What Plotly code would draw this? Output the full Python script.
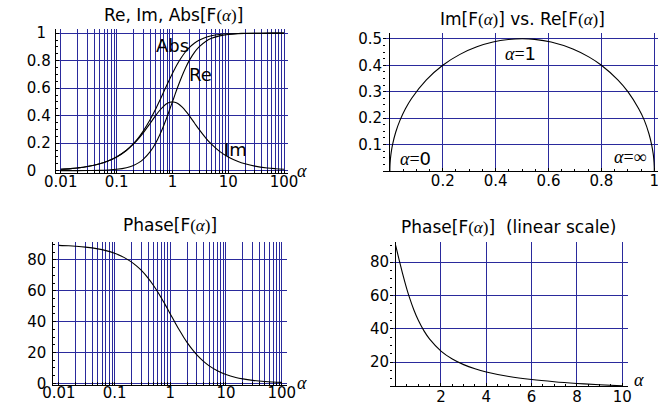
import plotly.graph_objects as go

# ---------------- data ----------------
alpha = [0.01, 0.015, 0.02, 0.03, 0.05, 0.07, 0.1, 0.15, 0.2, 0.25, 0.3, 0.4, 0.5, 0.6, 0.7,
         0.8, 0.9, 1.0, 1.1, 1.25, 1.5, 1.75, 2, 2.5, 3, 4, 5, 7, 10, 15, 20, 30, 50, 70, 100]
re_vals = [0.0001, 0.0002, 0.0004, 0.0009, 0.0025, 0.0049, 0.0099, 0.022, 0.0385, 0.0588, 0.0826,
           0.138, 0.2, 0.265, 0.329, 0.390, 0.448, 0.5, 0.5475, 0.6098, 0.692, 0.7538, 0.8, 0.862,
           0.9, 0.941, 0.962, 0.98, 0.990, 0.9956, 0.9975, 0.9989, 0.9996, 0.9998, 0.9999]
im_vals = [0.01, 0.015, 0.02, 0.03, 0.0499, 0.0697, 0.099, 0.1467, 0.1923, 0.2353, 0.2752, 0.3448,
           0.4, 0.4412, 0.4698, 0.4878, 0.4972, 0.5, 0.4977, 0.4878, 0.4615, 0.4308, 0.4, 0.3448,
           0.3, 0.2353, 0.1923, 0.14, 0.099, 0.0664, 0.0499, 0.0333, 0.02, 0.0143, 0.01]
abs_vals = [0.01, 0.015, 0.02, 0.03, 0.0499, 0.0698, 0.0995, 0.1483, 0.1961, 0.2425, 0.2873, 0.3714,
            0.4472, 0.5145, 0.5735, 0.6247, 0.669, 0.7071, 0.7399, 0.7809, 0.8321, 0.8682, 0.8944,
            0.9285, 0.9487, 0.9701, 0.9806, 0.9899, 0.995, 0.9978, 0.9988, 0.9994, 0.9998, 0.9999, 1.0]
phase_vals = [89.43, 89.14, 88.85, 88.28, 87.14, 86.0, 84.29, 81.47, 78.69, 75.96, 73.3, 68.2, 63.43,
              59.04, 55.01, 51.34, 48.01, 45, 42.27, 38.66, 33.69, 29.74, 26.57, 21.8, 18.43, 14.04,
              11.31, 8.13, 5.71, 3.81, 2.86, 1.91, 1.15, 0.82, 0.57]

# end points of the Nyquist curve (alpha = 0 and alpha = infinity)
nyq_start_re, nyq_start_im = [0.0], [0.0]
nyq_end_re, nyq_end_im = [1.0], [0.0]

alpha_lin = [0, 0.05, 0.1, 0.2, 0.3, 0.4, 0.5, 0.6, 0.8, 1, 1.25, 1.5, 2, 2.5, 3, 3.5, 4, 5, 6, 7,
             8, 9, 10]
phase_lin = [90, 87.14, 84.29, 78.69, 73.3, 68.2, 63.43, 59.04, 51.34, 45, 38.66, 33.69, 26.57,
             21.8, 18.43, 15.95, 14.04, 11.31, 9.46, 8.13, 7.13, 6.34, 5.71]

# tick values / labels
NB = "\u00a0"
log_grid = [m * 10 ** e for e in (-2, -1, 0, 1) for m in range(1, 10)] + [100]
log_labels = {0.01: "0.01", 0.1: "0.1", 1: "1", 10: "10", 100: "100"}
log_ticktext = [log_labels.get(round(v, 6), "") for v in log_grid]
y1_ticks = [0, 0.2, 0.4, 0.6, 0.8, 1]
y1_text = ["0" + NB * 3, "0.2", "0.4", "0.6", "0.8", "1" + NB]
x2_ticks = [0.2, 0.4, 0.6, 0.8, 1]
x2_text = ["0.2", "0.4", "0.6", "0.8", "1"]
y2_ticks = [0.1, 0.2, 0.3, 0.4, 0.5]
y2_text = ["0.1", "0.2", "0.3", "0.4", "0.5"]
y3_ticks = [0, 20, 40, 60, 80]
y3_text = ["0", "20", "40", "60", "80"]
x4_ticks = [2, 4, 6, 8, 10]
x4_text = ["2", "4", "6", "8", "10"]
y4_ticks = [20, 40, 60, 80]
y4_text = ["20", "40", "60", "80"]

# ---------------- figure ----------------
W, H = 658, 406
GRID = "#2a2a9c"
SANS = "DejaVu Sans"
SERIF = "Liberation Serif"
A = f'<span style="font-family:{SERIF};font-style:italic">α</span>'
FA = f'F<span style="font-family:{SERIF}">(</span>{A}<span style="font-family:{SERIF}">)</span>'

line = dict(color="black", width=1.1)
fig = go.Figure()
fig.add_trace(go.Scatter(x=alpha, y=re_vals, mode="lines", line=line, line_shape="spline",
                         xaxis="x", yaxis="y"))
fig.add_trace(go.Scatter(x=alpha, y=im_vals, mode="lines", line=line, line_shape="spline",
                         xaxis="x", yaxis="y"))
fig.add_trace(go.Scatter(x=alpha, y=abs_vals, mode="lines", line=line, line_shape="spline",
                         xaxis="x", yaxis="y"))
fig.add_trace(go.Scatter(x=nyq_start_re + re_vals + nyq_end_re,
                         y=nyq_start_im + im_vals + nyq_end_im,
                         mode="lines", line=line, line_shape="spline", xaxis="x2", yaxis="y2"))
fig.add_trace(go.Scatter(x=alpha, y=phase_vals, mode="lines", line=line, line_shape="spline",
                         xaxis="x3", yaxis="y3"))
fig.add_trace(go.Scatter(x=alpha_lin, y=phase_lin, mode="lines", line=line, line_shape="spline",
                         xaxis="x4", yaxis="y4"))


def px_x(p):
    return p / W


def px_y(p):
    return 1 - p / H


tickfont = dict(family=SANS, size=15, color="black")
common = dict(showgrid=True, gridcolor=GRID, gridwidth=1, showline=True, linecolor="black",
              linewidth=1, ticks="inside", ticklen=3, tickcolor="black", tickfont=tickfont,
              zeroline=False, fixedrange=True, automargin=False)

layout = dict(
    width=W, height=H, margin=dict(l=0, r=0, t=0, b=0, autoexpand=False), showlegend=False,
    paper_bgcolor="white", plot_bgcolor="white",
    xaxis=dict(common, type="log", domain=[px_x(55.7), px_x(288)], range=[-2.09, 2.07],
               tickvals=log_grid, ticktext=log_ticktext, anchor="y", ticklabelstandoff=-5),
    yaxis=dict(common, domain=[px_y(173.3), px_y(29)], range=[-0.019, 1.03],
               tickvals=y1_ticks, ticktext=y1_text, anchor="x", ticklabelstandoff=1,
               minor=dict(ticks="inside", ticklen=2, dtick=0.05, tickcolor="black", showgrid=False)),
    xaxis2=dict(common, domain=[px_x(383), 1.0], range=[-0.026, 1.014],
                tickvals=x2_ticks, ticktext=x2_text, anchor="y2", ticklabelstandoff=-4,
                ticklabeloverflow="allow",
                zeroline=True, zerolinecolor="black", zerolinewidth=1,
                minor=dict(ticks="inside", ticklen=2, dtick=0.05, tickcolor="black", showgrid=False)),
    yaxis2=dict(common, domain=[px_y(171), px_y(33)], range=[0, 0.522], showline=False,
                tickvals=y2_ticks, ticktext=y2_text, anchor="x2",
                minor=dict(ticks="inside", ticklen=2, dtick=0.025, tickcolor="black", showgrid=False)),
    xaxis3=dict(common, type="log", domain=[px_x(53.3), px_x(286.7)], range=[-2.10, 2.09],
                tickvals=log_grid, ticktext=log_ticktext, anchor="y3", ticklabelstandoff=-6),
    yaxis3=dict(common, domain=[px_y(385), px_y(241.7)], range=[-1.1, 91.8],
                tickvals=y3_ticks, ticktext=y3_text, anchor="x3", ticklabelstandoff=3,
                minor=dict(ticks="inside", ticklen=2, dtick=5, tickcolor="black", showgrid=False)),
    xaxis4=dict(common, domain=[px_x(390), px_x(627.7)], range=[-0.25, 10.24],
                tickvals=x4_ticks, ticktext=x4_text, anchor="y4", ticklabelstandoff=-3,
                zeroline=True, zerolinecolor="black", zerolinewidth=1,
                minor=dict(ticks="inside", ticklen=2, dtick=0.5, tickcolor="black", showgrid=False)),
    yaxis4=dict(common, domain=[px_y(386), px_y(241.7)], range=[5.6, 92.2], showline=False,
                tickvals=y4_ticks, ticktext=y4_text, anchor="x4",
                minor=dict(ticks="inside", ticklen=2, dtick=5, tickcolor="black", showgrid=False)),
)
fig.update_layout(**layout)


def ann(text, x, y, size, **kw):
    fig.add_annotation(text=text, x=px_x(x), y=px_y(y), xref="paper", yref="paper",
                       showarrow=False, xanchor=kw.get("xanchor", "center"), yanchor="middle",
                       font=dict(family=SANS, size=size, color="black"))


# titles
ann(f"Re, Im, Abs[{FA}]", 173.7, 15, 17)
ann(f"Im[{FA}] vs. Re[{FA}]", 522, 19, 17)
ann(f"Phase[{FA}]", 170, 225, 17)
ann(f"Phase[{FA}]  (linear scale)", 508, 227, 17)

# curve labels
ann("Abs", 172.5, 46, 18)
ann("Re", 200, 74, 18)
ann("Im", 235.5, 149.5, 18)
EQ = f'<span style="font-family:{SERIF}">=</span>'
ann(f"{A}{EQ}1", 520.5, 53, 18)
ann(f"{A}{EQ}0", 415, 158, 18)
ann(f'{A}{EQ}<span style="font-family:{SERIF}">∞</span>', 630, 157, 18)

# axis labels
ann(A, 302, 171, 18)
ann(A, 302, 383, 18)
ann(A, 639, 380, 18)

fig.write_html("out.html", post_script="document.body.style.margin='0px';",
               config={"displayModeBar": False})
